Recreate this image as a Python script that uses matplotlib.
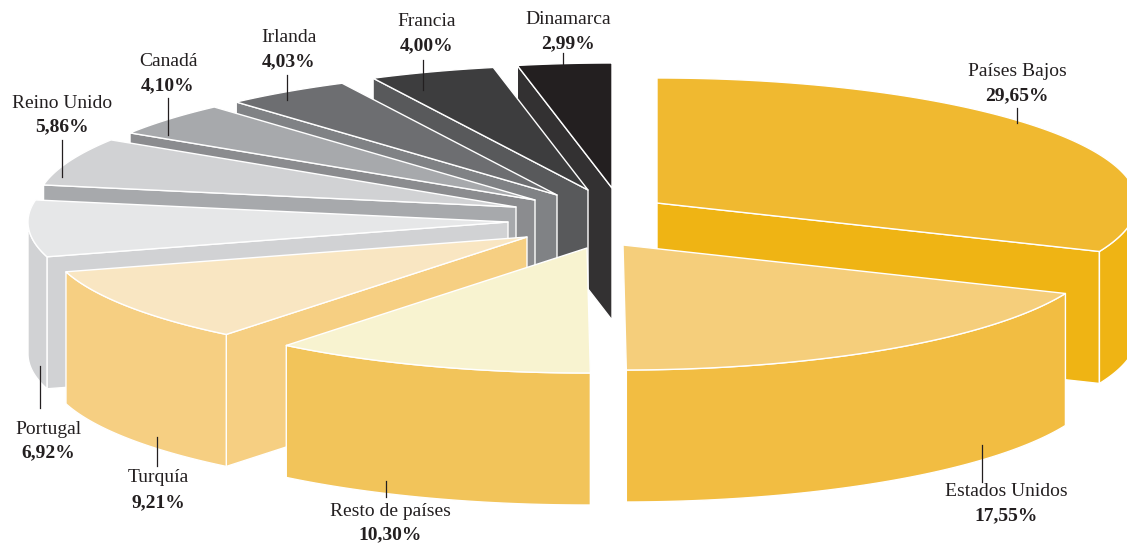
import numpy as np
import matplotlib
matplotlib.use("Agg")
import matplotlib.pyplot as plt
from matplotlib.patches import Polygon

# Cuota por país (%), en el orden de la tarta (sentido horario desde arriba)
countries = ["Países Bajos", "Estados Unidos", "Resto de países", "Turquía", "Portugal",
             "Reino Unido", "Canadá", "Irlanda", "Francia", "Dinamarca"]
shares = [29.65, 17.55, 10.30, 9.21, 6.92, 5.86, 4.10, 4.03, 4.00, 2.99]

# Colores: cara superior y paredes laterales
top_colors = ["#F0B930", "#F5CE7B", "#F8F3D0", "#F9E6C2", "#E6E7E8",
              "#D1D2D4", "#A7A9AC", "#6D6E71", "#3D3D3E", "#231F20"]
side_colors = ["#EFB414", "#F2BD42", "#F2C45A", "#F6CF82", "#D1D2D4",
               "#A7A9AC", "#8B8C8F", "#808285", "#58595B", "#333132"]

# Geometría en píxeles
CX, CY = 565, 215
RX, RY, DEPTH = 480, 125, 132
# desplazamiento de cada porción respecto al centro
explode = [(92, -12), (58, 30), (22, 33), (-38, 22), (-57, 7),
           (-49, -8), (-30, -15), (-8, -20), (23, -25), (47, -27)]

# posición de etiquetas: (x, y nombre, y porcentaje, línea x, línea y0, línea y1)
label_pos = [(1017, 72, 96, 1017, 108, 123),
             (1006, 491, 516, 982, 445, 482),
             (390, 512, 535, 386, 481, 497),
             (158, 478, 503, 157, 437, 466),
             (48, 430, 453, 40, 366, 408),
             (62, 103, 127, 62, 140, 177),
             (168, 62, 86, 168, 98, 135),
             (289, 38, 62, 287, 75, 100),
             (427, 22, 46, 423, 60, 90),
             (568, 19, 44, 563, 53, 66)]

fig = plt.figure(figsize=(11.27, 5.44), dpi=100)
ax = fig.add_axes([0, 0, 1, 1])
ax.set_xlim(0, 1127)
ax.set_ylim(544, 0)
ax.axis("off")

fracs = np.array(shares) / sum(shares)
cum = np.concatenate([[0], np.cumsum(fracs)])
starts = 90 - 360 * cum[:-1]
ends = 90 - 360 * cum[1:]


def arc(ox, oy, t):
    r = np.radians(t)
    return np.column_stack([ox + RX * np.cos(r), oy - RY * np.sin(r)])


def face(pts, color):
    ax.add_patch(Polygon(pts, closed=True, facecolor=color, edgecolor="white",
                         linewidth=1.0, joinstyle="round"))


def draw_slice(i):
    ox, oy = CX + explode[i][0], CY + explode[i][1]
    a0, a1 = starts[i], ends[i]
    ts = np.linspace(a0, a1, 200)
    apex = np.array([[ox, oy]])
    down = np.array([0, DEPTH])

    # paredes radiales visibles
    for phi, visible in ((a0, np.cos(np.radians(a0)) < -0.02),
                         (a1, np.cos(np.radians(a1)) > 0.02)):
        if visible:
            p = arc(ox, oy, np.array([phi]))[0]
            face([apex[0], p, p + down, apex[0] + down], side_colors[i])

    # pared exterior (sólo la parte frontal)
    mask = np.sin(np.radians(ts)) <= 0
    if mask.sum() > 1:
        seg = arc(ox, oy, ts[mask])
        face(np.vstack([seg, seg[::-1] + down]), side_colors[i])

    # cara superior
    face(np.vstack([apex, arc(ox, oy, ts)]), top_colors[i])


# de atrás hacia delante
order = np.argsort(-np.sin(np.radians((starts + ends) / 2)))
for i in order:
    draw_slice(i)

text_kw = dict(ha="center", va="center", color="#231F20",
               family=["Liberation Serif", "DejaVu Serif"])
for name, val, (lx, ny, py, linex, l0, l1) in zip(countries, shares, label_pos):
    ax.text(lx, ny, name, fontsize=14, **text_kw)
    ax.text(lx, py, f"{val:.2f}%".replace(".", ","), fontsize=14,
            fontweight="bold", **text_kw)
    ax.plot([linex, linex], [l0, l1], color="#231F20", lw=0.9)

fig.savefig("out.png", dpi=100, facecolor="white")
